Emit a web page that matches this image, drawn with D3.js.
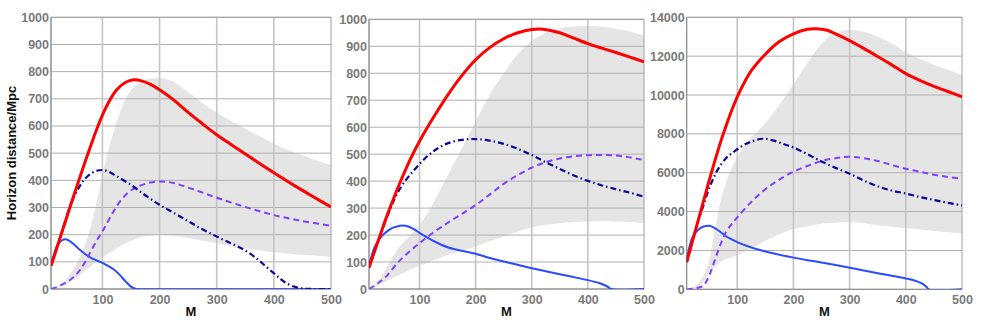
<!DOCTYPE html>
<html><head><meta charset="utf-8">
<script src="https://cdn.jsdelivr.net/npm/d3@7"></script>
<style>body{margin:0;background:#fff}svg{display:block}</style>
</head><body><svg id="c" width="981" height="328"></svg>
<script>
// ---------- DATA ----------
const xTicks = [100, 200, 300, 400, 500];
const yTicks12 = [0,100,200,300,400,500,600,700,800,900,1000];
const yTicks3 = [0,2000,4000,6000,8000,10000,12000,14000];
const bandM = [10,20,30,40,50,60,70,80,90,100,110,120,130,140,150,165,185,200,225,250,275,300,325,350,375,400,425,450,475,500];

// panel 1
const p1Upper = [0,8,22,45,75,115,165,235,320,420,510,580,645,698,732,758,775,776,762,725,685,650,618,590,562,535,512,492,473,456];
const p1Lower = [0,5,12,22,35,50,68,85,100,116,130,143,156,168,178,190,197,199,196,188,178,168,158,150,142,135,130,126,122,118];
const p1Red = [[10,85],[20,150],[30,215],[40,280],[50,345],[60,408],[70,470],[80,530],[90,588],[100,640],[110,684],[125,733],[140,760],[155,770],[170,765],[185,752],[200,733],[225,695],[250,650],[275,608],[300,568],[325,532],[350,497],[375,462],[400,428],[425,395],[450,363],[475,332],[500,302]];
const p1DashDot = [[10,85],[20,150],[30,215],[40,285],[50,338],[60,378],[70,407],[80,425],[90,435],[100,438],[110,433],[125,415],[150,383],[175,345],[200,310],[225,280],[250,250],[275,220],[300,193],[325,168],[350,142],[370,112],[385,85],[400,58],[410,40],[420,24],[435,9],[450,2],[470,0],[500,0]];
const p1Dashed = [[10,0],[20,7],[30,17],[40,28],[50,45],[60,68],[70,100],[80,140],[90,178],[100,212],[110,250],[120,287],[130,320],[145,355],[160,375],[180,390],[200,396],[225,390],[250,373],[275,355],[300,336],[350,302],[400,272],[450,250],[500,233]];
const p1Blue = [[10,90],[15,125],[20,155],[25,172],[30,180],[35,183],[40,180],[50,165],[60,145],[70,128],[80,115],[90,105],[100,96],[110,85],[120,72],[130,53],[140,29],[150,9],[158,1],[165,0],[500,0]];

// panel 2
const p2Upper = [0,15,40,75,110,145,170,190,215,240,268,300,340,380,420,480,560,620,720,800,870,920,950,966,973,975,973,965,955,940];
const p2Lower = [0,8,18,28,38,48,58,68,78,86,94,102,110,118,126,136,148,158,177,195,212,228,238,244,248,250,251,250,248,245];
const p2Red = [[10,80],[20,140],[30,200],[40,260],[50,315],[60,368],[70,418],[80,465],[90,508],[100,548],[110,585],[125,637],[150,718],[175,790],[200,850],[225,895],[250,928],[275,950],[300,962],[320,963],[350,950],[375,930],[400,910],[425,893],[450,877],[475,860],[500,842]];
const p2DashDot = [[10,80],[20,140],[30,200],[40,255],[50,308],[60,353],[75,402],[90,440],[110,485],[130,518],[150,540],[175,553],[200,556],[225,550],[250,538],[275,520],[300,497],[325,470],[350,445],[375,421],[400,401],[425,384],[450,370],[475,357],[500,342]];
const p2Dashed = [[10,0],[25,20],[40,45],[60,95],[80,135],[100,170],[125,210],[150,245],[175,278],[200,311],[225,350],[250,390],[275,422],[300,450],[325,470],[350,484],[375,492],[400,496],[425,497],[450,495],[475,488],[500,478]];
const p2Blue = [[10,85],[15,125],[20,155],[30,190],[40,210],[50,225],[60,232],[70,235],[80,232],[90,222],[100,208],[125,178],[150,155],[175,142],[200,131],[225,115],[250,102],[275,90],[300,77],[325,66],[350,55],[375,44],[400,33],[420,22],[430,14],[437,6],[441,0],[500,0]];

// panel 3
const p3Upper = [0,100,300,700,1500,3000,4500,5500,6250,6800,7250,7650,7950,8250,8550,9100,9900,10550,11650,12650,13200,13350,13250,13000,12650,12200,11850,11550,11300,11030];
const p3Lower = [0,20,100,400,800,1150,1400,1550,1650,1750,1900,2050,2200,2350,2500,2700,2950,3100,3250,3380,3430,3450,3400,3300,3220,3140,3080,3000,2940,2880];
const p3Red = [[10,1400],[20,2450],[30,3500],[40,4550],[50,5600],[60,6600],[70,7550],[80,8400],[90,9200],[100,9900],[110,10500],[125,11250],[150,12100],[175,12750],[200,13150],[225,13380],[240,13410],[260,13330],[275,13150],[300,12800],[325,12400],[350,11980],[375,11550],[400,11100],[425,10750],[450,10450],[475,10180],[500,9900]];
const p3DashDot = [[10,1400],[20,2450],[30,3500],[38,4150],[45,4800],[55,5550],[65,6150],[80,6750],[95,7100],[110,7400],[125,7600],[145,7750],[165,7650],[185,7450],[200,7300],[225,6950],[250,6580],[275,6250],[300,5950],[325,5600],[350,5300],[375,5080],[400,4930],[425,4750],[450,4600],[475,4450],[500,4320]];
const p3Dashed = [[10,0],[20,30],[30,80],[40,200],[50,700],[60,1500],[70,2300],[80,2950],[90,3350],[100,3700],[125,4500],[150,5150],[175,5650],[200,6050],[225,6350],[250,6600],[275,6750],[300,6820],[325,6750],[350,6600],[375,6400],[400,6200],[425,6050],[450,5900],[475,5780],[500,5700]];
const p3Blue = [[10,1500],[15,2200],[20,2650],[30,3050],[40,3230],[50,3270],[60,3150],[70,2950],[80,2730],[90,2570],[100,2430],[125,2150],[150,1950],[175,1780],[200,1630],[225,1500],[250,1380],[275,1250],[300,1110],[325,970],[350,830],[375,700],[400,560],[420,410],[430,280],[437,120],[441,0],[500,0]];

const panels = [
  {x0:51, x1:331, y0:17.3, y1:289, ymax:1000, yTicks:yTicks12, upper:p1Upper, lower:p1Lower, red:p1Red, dd:p1DashDot, dash:p1Dashed, blue:p1Blue},
  {x0:369, x1:644, y0:19.3, y1:289, ymax:1000, yTicks:yTicks12, upper:p2Upper, lower:p2Lower, red:p2Red, dd:p2DashDot, dash:p2Dashed, blue:p2Blue},
  {x0:686.7, x1:962, y0:17.3, y1:289.3, ymax:14000, yTicks:yTicks3, upper:p3Upper, lower:p3Lower, red:p3Red, dd:p3DashDot, dash:p3Dashed, blue:p3Blue}
];

// ---------- DRAW ----------
const svg = d3.select("#c");
const font = "'Liberation Sans', Arial, Helvetica, sans-serif";

panels.forEach((p, i) => {
  const x = d3.scaleLinear().domain([10, 500]).range([p.x0, p.x1]);
  const y = d3.scaleLinear().domain([0, p.ymax]).range([p.y1, p.y0]);
  const g = svg.append("g");
  const clipId = "clip" + i;
  svg.append("clipPath").attr("id", clipId).append("rect")
    .attr("x", p.x0).attr("y", p.y0 - 2).attr("width", p.x1 - p.x0).attr("height", p.y1 - p.y0 + 2);

  // band
  const band = bandM.map((m, k) => ({m, lo: p.lower[k], hi: p.upper[k]}));
  g.append("path").datum(band)
    .attr("d", d3.area().x(d => x(d.m)).y0(d => y(d.lo)).y1(d => y(d.hi)).curve(d3.curveMonotoneX))
    .attr("fill", "#e5e5e5");

  // grid
  g.append("g").selectAll("line").data(p.yTicks.slice(1)).join("line")
    .attr("x1", p.x0).attr("x2", p.x1).attr("y1", d => y(d)).attr("y2", d => y(d))
    .attr("stroke", "#b0b0b0").attr("stroke-width", 1);
  g.append("g").selectAll("line").data(xTicks.slice(0, 4)).join("line")
    .attr("x1", d => x(d)).attr("x2", d => x(d)).attr("y1", p.y0).attr("y2", p.y1)
    .attr("stroke", "#c4c4c4").attr("stroke-width", 1.6);

  // frame
  g.append("rect").attr("x", p.x0).attr("y", p.y0).attr("width", p.x1 - p.x0).attr("height", p.y1 - p.y0)
    .attr("fill", "none").attr("stroke", "#a0a0a0").attr("stroke-width", 1);
  g.append("line").attr("x1", p.x0).attr("x2", p.x0).attr("y1", p.y0).attr("y2", p.y1).attr("stroke", "#8a8a8a");
  g.append("line").attr("x1", p.x0).attr("x2", p.x1).attr("y1", p.y1).attr("y2", p.y1).attr("stroke", "#8a8a8a");

  // axes (labels only)
  const ax = g.append("g").attr("transform", `translate(0,${p.y1})`)
    .call(d3.axisBottom(x).tickValues(xTicks).tickSize(0).tickPadding(6).tickFormat(d3.format("d")));
  const ay = g.append("g").attr("transform", `translate(${p.x0},0)`)
    .call(d3.axisLeft(y).tickValues(p.yTicks).tickSize(0).tickPadding(2).tickFormat(d3.format("d")));
  [ax, ay].forEach(a => {
    a.select(".domain").remove();
    a.selectAll("text").attr("fill", "#7a7a7a").attr("font-size", 12.5).attr("font-weight", "bold").attr("font-family", font);
  });

  // lines
  const line = d3.line().x(d => x(d[0])).y(d => y(d[1])).curve(d3.curveCatmullRom.alpha(0.5));
  const lg = g.append("g").attr("clip-path", `url(#${clipId})`);
  lg.append("path").datum(p.blue).attr("d", line).attr("fill", "none").attr("stroke", "#2a4bff").attr("stroke-width", 2);
  lg.append("path").datum(p.dash).attr("d", line).attr("fill", "none").attr("stroke", "#8040ff").attr("stroke-width", 2).attr("stroke-dasharray", "6,4");
  lg.append("path").datum(p.dd).attr("d", line).attr("fill", "none").attr("stroke", "#0a0a96").attr("stroke-width", 2.2).attr("stroke-dasharray", "6,3,1.5,3");
  lg.append("path").datum(p.red).attr("d", line).attr("fill", "none").attr("stroke", "#ff0000").attr("stroke-width", 3);

  // x title
  svg.append("text").attr("x", (p.x0 + p.x1) / 2).attr("y", 316).attr("text-anchor", "middle")
    .attr("font-family", font).attr("font-weight", "bold").attr("font-size", 13).attr("fill", "#111").text("M");
});

svg.append("text").attr("transform", "translate(16,153) rotate(-90)").attr("text-anchor", "middle")
  .attr("font-family", font).attr("font-weight", "bold").attr("font-size", 13).attr("fill", "#111")
  .text("Horizon distance/Mpc");
</script></body></html>
